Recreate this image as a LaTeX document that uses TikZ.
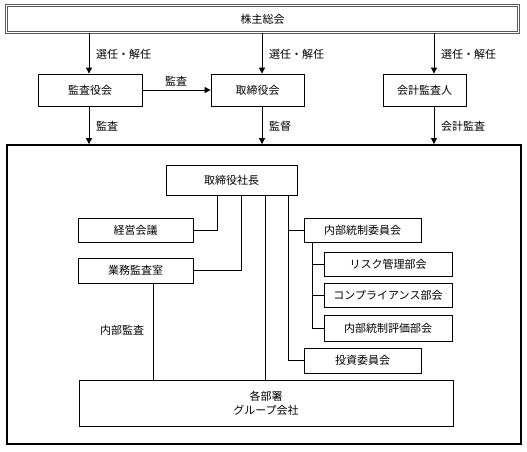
\documentclass[tikz,border=0pt]{standalone}
\usepackage{fontspec}
\setmainfont{Noto Sans CJK JP}
\usepackage{tikz}
\usetikzlibrary{arrows.meta}

\tikzset{
  box/.style={draw, line width=0.8pt, inner sep=0pt, minimum height=24pt},
  arr/.style={line width=0.8pt, -{Triangle[length=6pt,width=6pt]}},
  conn/.style={line width=0.8pt},
  lbl/.style={inner sep=0pt}
}

\begin{document}
\begin{tikzpicture}[x=1pt, y=-1pt, font=\fontsize{11}{14}\selectfont]

          \useasboundingbox (0,0) rectangle (527,451);

          \node[box, draw=black!65, double, double distance=1.2pt, line width=0.6pt,
                minimum width=512pt, minimum height=27pt] (kabunushi) at (262.5,19) {株主総会};

          \node[box, minimum width=104pt, minimum height=32pt] (kansayaku) at (90,90) {監査役会};
          \node[box, minimum width=93pt, minimum height=32pt] (torishimari) at (257.5,90) {取締役会};
          \node[box, minimum width=83pt, minimum height=32pt] (kaikei) at (424.5,90) {会計監査人};

          \node[draw, line width=1.8pt, minimum width=514pt, minimum height=299pt] (kaisha) at (264,294.5) {};

          \coordinate (c1) at (89,0);
          \coordinate (c2) at (262,0);
          \coordinate (c3) at (434,0);

          \draw[arr] (kabunushi.south -| c1) -- (kansayaku.north -| c1);
          \draw[arr] (kabunushi.south -| c2) -- (torishimari.north -| c2);
          \draw[arr] (kabunushi.south -| c3) -- (kaikei.north -| c3);
          \node[lbl, anchor=west] (sen1) at (96,54) {選任・解任};
          \node[lbl, anchor=west] (sen2) at (269,54) {選任・解任};
          \node[lbl, anchor=west] (sen3) at (441,54) {選任・解任};

          \draw[arr] (kansayaku.east) -- (torishimari.west);
          \node[lbl] (kansa0) at (176,81) {監査};

          \draw[arr] (kansayaku.south -| c1) -- (kaisha.north -| c1);
          \draw[arr] (torishimari.south -| c2) -- (kaisha.north -| c2);
          \draw[arr] (kaikei.south -| c3) -- (kaisha.north -| c3);
          \node[lbl, anchor=west] (kansa1) at (96,126) {監査};
          \node[lbl, anchor=west] (kantoku) at (269,126) {監督};
          \node[lbl, anchor=west] (kaikeikansa) at (441,126) {会計監査};

          \node[box, minimum width=131pt, minimum height=30pt] (shacho) at (231.5,180) {取締役社長};
          \node[box, minimum width=115pt] (keiei) at (135.5,230) {経営会議};
          \node[box, minimum width=115pt, minimum height=25pt] (gyomu) at (135.5,270.5) {業務監査室};
          \node[box, minimum width=117pt] (naibu) at (362.5,230) {内部統制委員会};
          \node[box, minimum width=128pt] (risk) at (388,264) {リスク管理部会};
          \node[box, minimum width=128pt] (comp) at (388,295.5) {コンプライアンス部会};
          \node[box, minimum width=128pt, minimum height=26pt] (hyoka) at (388,328) {内部統制評価部会};
          \node[box, minimum width=117pt, minimum height=25pt] (toshi) at (362.5,360.5) {投資委員会};
          \node[box, minimum width=374pt, minimum height=46pt, align=center] (kakubu) at (266,403) {各部署\\グループ会社};

          \coordinate (k1) at (217,0);
          \coordinate (k2) at (241,0);
          \coordinate (k3) at (265,0);
          \coordinate (k4) at (288,0);
          \coordinate (k5) at (312,0);
          \coordinate (k6) at (153,0);

          \draw[conn] (keiei.east) -| (shacho.south -| k1);
          \draw[conn] (gyomu.east) -| (shacho.south -| k2);
          \draw[conn] (shacho.south -| k3) -- (kakubu.north -| k3);
          \draw[conn] (shacho.south -| k4) |- (toshi.west);
          \draw[conn] (naibu.west) -- (naibu.west -| k4);
          \draw[conn] (naibu.south -| k5) |- (hyoka.west);
          \foreach \sub in {risk,comp}{
            \draw[conn] (\sub.west) -- (\sub.west -| k5);
          }
          \draw[conn] (gyomu.south -| k6) -- (kakubu.north -| k6);
          \node[lbl] (naibukansa) at (122,330) {内部監査};

        \end{tikzpicture}
\end{document}
